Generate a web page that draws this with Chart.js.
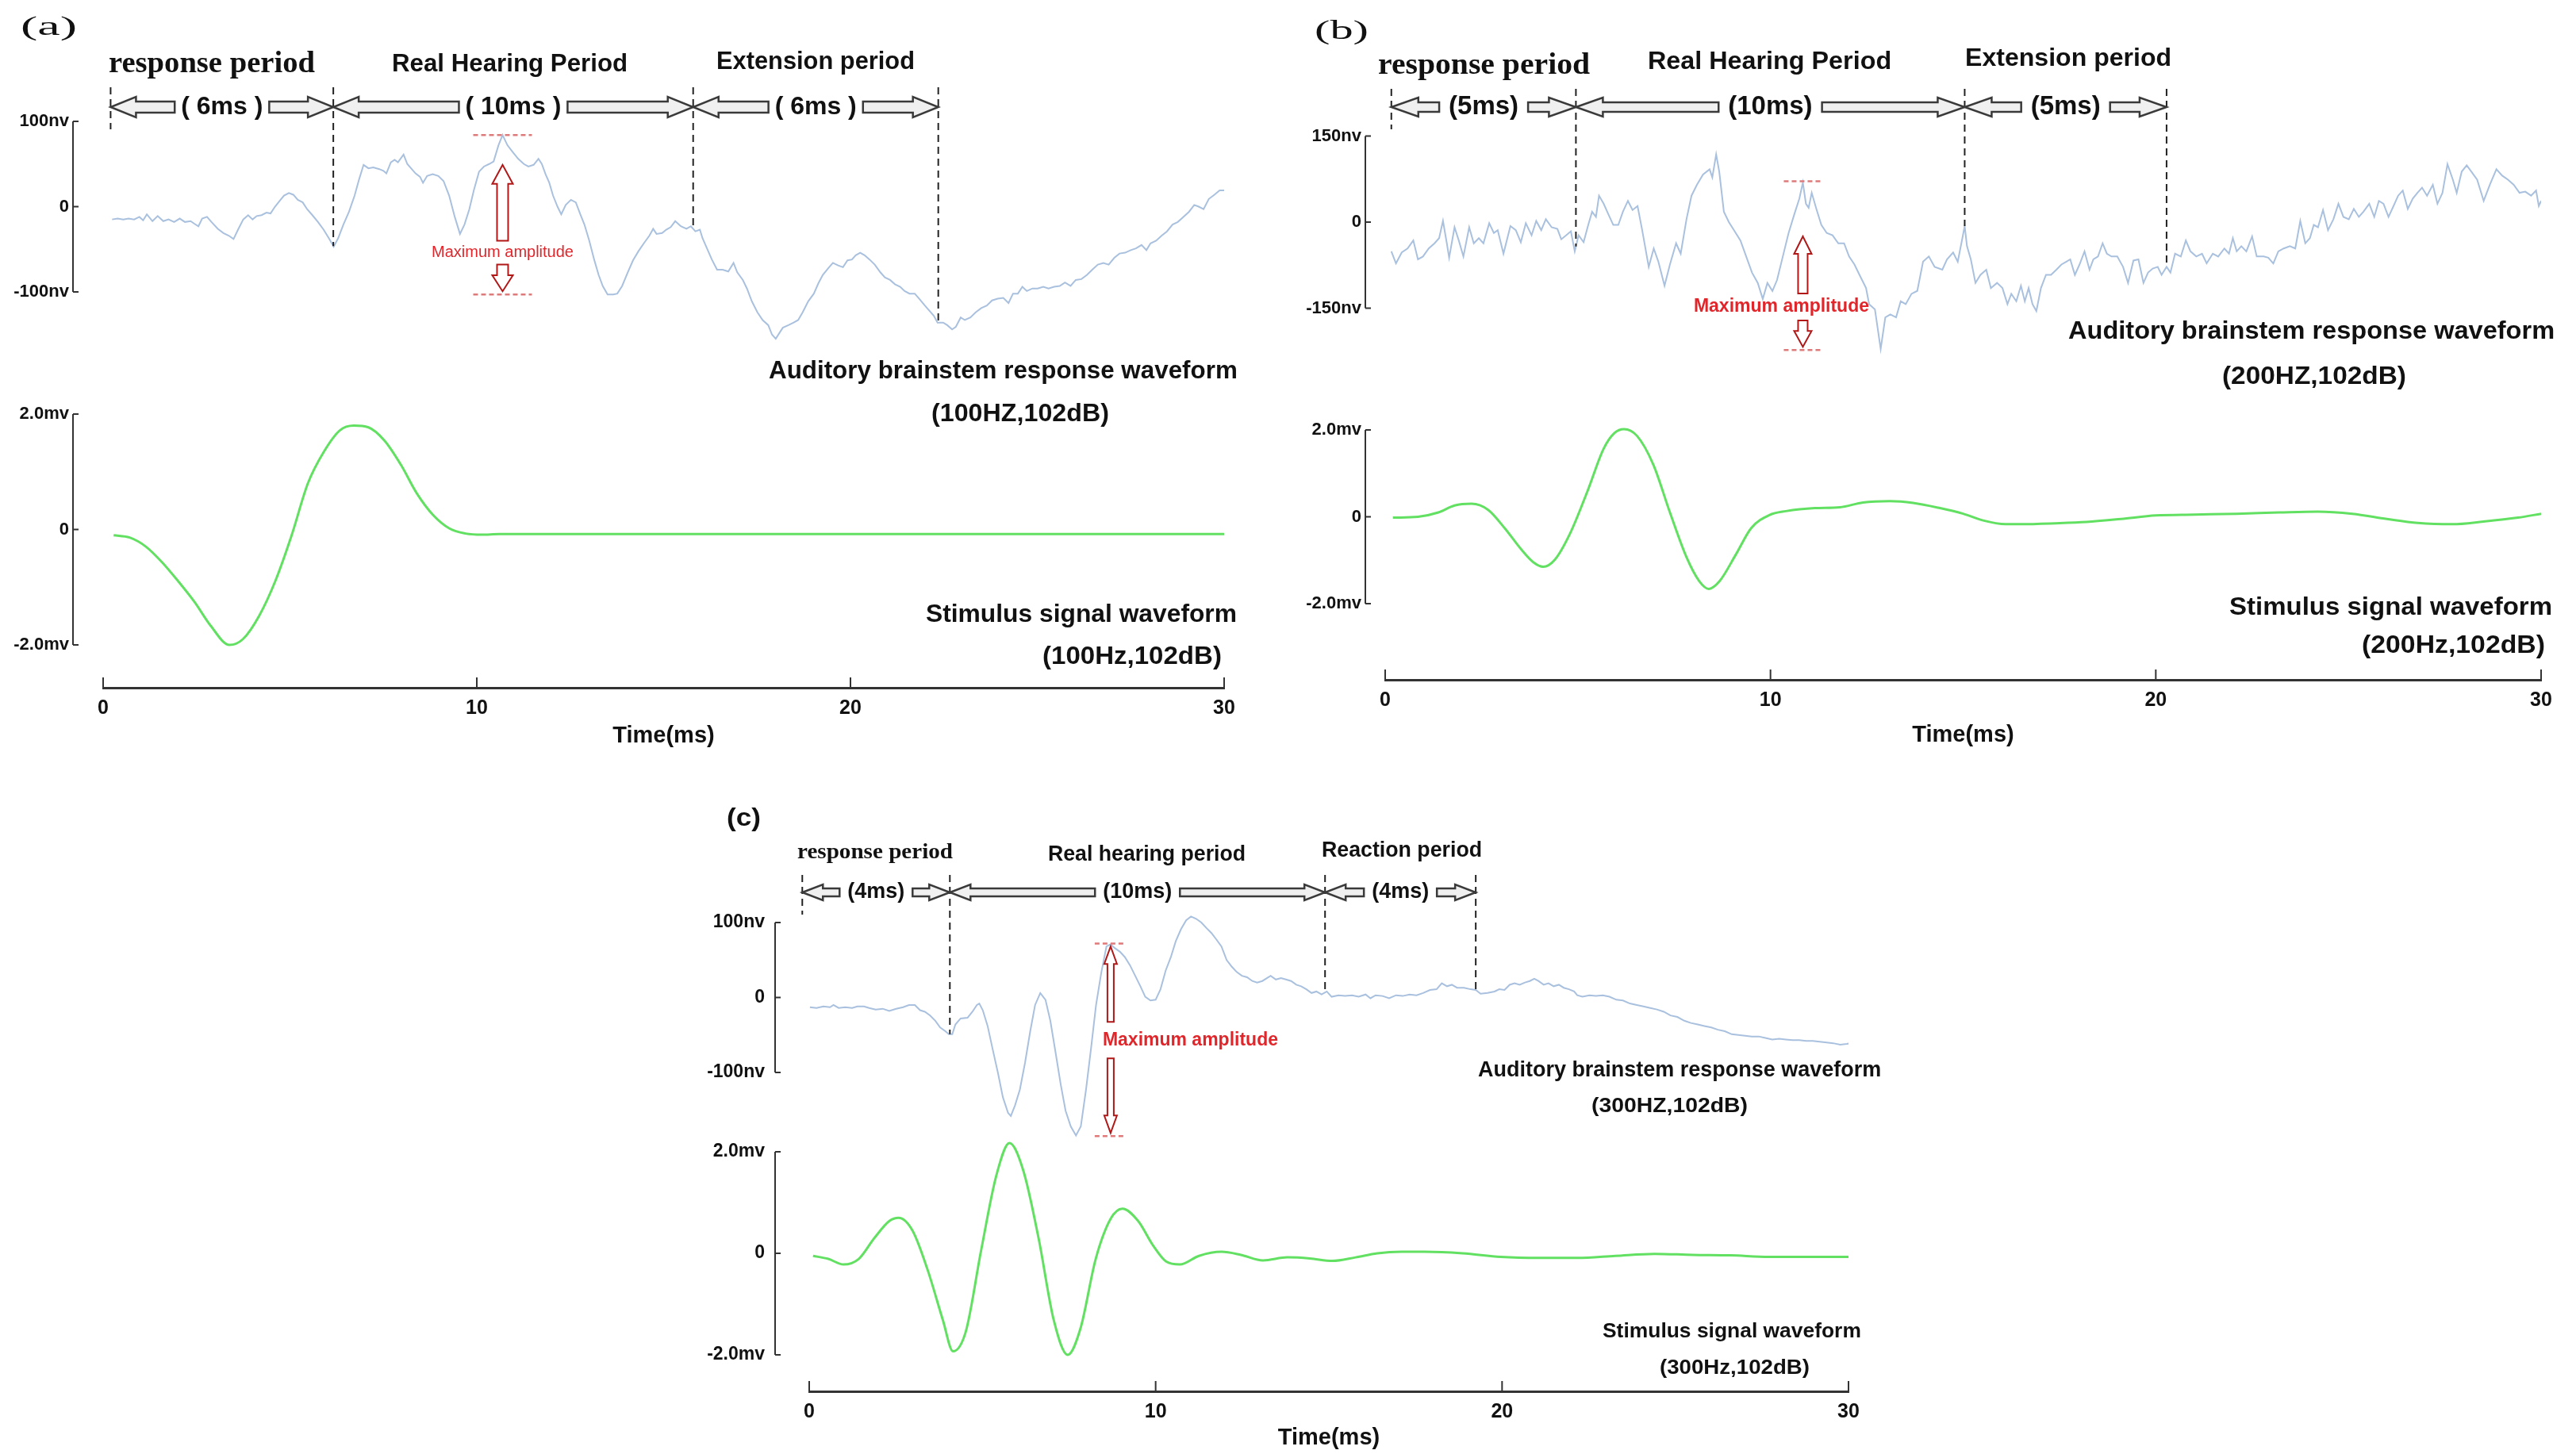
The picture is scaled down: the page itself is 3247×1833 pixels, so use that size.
<!DOCTYPE html>
<html lang="en">
<head>
<meta charset="UTF-8">
<title>ABR and stimulus waveforms</title>
<script src="https://cdn.jsdelivr.net/npm/chart.js"></script>
<style>
  body { margin: 0; background: #fff; width: 3247px; height: 1833px; position: relative; overflow: hidden; }
  canvas { position: absolute; }
  .lbl { position: absolute; white-space: nowrap; color: #111; font-family: 'Liberation Sans', Arial, sans-serif; font-weight: bold; transform-origin: 0 50%; }
  .serif { font-family: 'Liberation Serif', 'DejaVu Serif', serif; }
  .plain { font-weight: normal; }
</style>
</head>
<body>
<script>
// ---- data ----
const timeTicks = [0, 10, 20, 30];
const stimTicks = [-2, 0, 2];
const abrTicksA = [-100, 0, 100];
const abrTicksB = [-150, 0, 150];
const abrTicksC = [-100, 0, 100];

// (a) 100 Hz
const abrTimeA = [0.24,0.39,0.54,0.68,0.83,0.97,1.07,1.17,1.32,1.46,
  1.61,1.75,1.9,2.05,2.19,2.34,2.44,2.55,2.65,2.78,
  2.9,3.07,3.22,3.36,3.49,3.61,3.75,3.88,4.0,4.11,
  4.24,4.37,4.48,4.6,4.73,4.84,4.97,5.09,5.21,5.34,
  5.46,5.6,5.75,5.9,6.04,6.17,6.29,6.43,6.58,6.73,
  6.85,6.97,7.1,7.23,7.39,7.5,7.58,7.7,7.8,7.89,
  8.04,8.14,8.24,8.36,8.48,8.56,8.67,8.82,8.97,9.11,
  9.26,9.41,9.55,9.67,9.8,9.92,10.06,10.19,10.33,10.45,
  10.58,10.69,10.82,10.96,11.11,11.26,11.38,11.52,11.65,11.74,
  11.84,11.94,12.04,12.16,12.26,12.38,12.52,12.65,12.77,12.88,
  13.01,13.14,13.26,13.37,13.5,13.65,13.76,13.89,14.04,14.18,
  14.33,14.47,14.62,14.72,14.81,14.96,15.07,15.19,15.31,15.46,
  15.61,15.73,15.85,15.97,16.04,16.16,16.29,16.43,16.58,16.73,
  16.87,16.97,17.12,17.23,17.36,17.51,17.65,17.8,17.9,18.0,
  18.1,18.19,18.34,18.48,18.6,18.72,18.87,19.02,19.14,19.26,
  19.41,19.53,19.67,19.8,19.92,20.04,20.14,20.26,20.38,20.51,
  20.65,20.8,20.92,21.06,21.19,21.33,21.45,21.58,21.72,21.84,
  21.99,22.11,22.23,22.33,22.48,22.59,22.72,22.82,22.95,23.06,
  23.21,23.35,23.5,23.65,23.79,23.94,24.09,24.23,24.35,24.48,
  24.6,24.72,24.87,25.01,25.16,25.3,25.45,25.6,25.74,25.89,
  26.03,26.18,26.33,26.47,26.62,26.77,26.91,27.06,27.2,27.35,
  27.5,27.64,27.79,27.92,28.03,28.18,28.33,28.47,28.62,28.76,
  28.91,29.06,29.2,29.32,29.45,29.59,29.74,29.88,30.0];
const abrValA = [-15,-14,-15,-14,-15,-12,-16,-9,-17,-11,
  -17,-15,-18,-14,-18,-17,-20,-23,-14,-12,
  -18,-26,-31,-34,-38,-27,-15,-10,-15,-11,
  -10,-7,-8,0,7,13,16,14,8,5,
  -3,-10,-18,-27,-37,-47,-37,-21,-6,13,
  32,49,45,46,44,42,39,52,55,52,
  61,50,45,39,35,28,36,38,36,30,
  13,-12,-32,-21,-3,19,41,47,50,53,
  72,84,72,64,56,50,47,49,56,50,
  38,28,13,0,-9,2,8,5,-9,-21,
  -40,-62,-80,-93,-103,-103,-102,-93,-77,-63,
  -52,-43,-34,-26,-32,-31,-27,-24,-17,-23,
  -26,-23,-29,-27,-37,-49,-62,-74,-74,-76,
  -66,-77,-86,-96,-111,-124,-133,-139,-150,-155,
  -148,-142,-139,-136,-133,-124,-111,-102,-90,-80,
  -72,-66,-69,-71,-63,-62,-57,-54,-57,-62,
  -68,-77,-83,-86,-91,-94,-99,-102,-102,-108,
  -116,-122,-128,-136,-136,-139,-144,-141,-130,-133,
  -130,-124,-119,-116,-110,-108,-107,-113,-102,-102,
  -94,-99,-96,-96,-94,-96,-94,-93,-89,-93,
  -86,-85,-80,-74,-68,-66,-68,-60,-55,-54,
  -51,-49,-45,-51,-43,-40,-34,-29,-21,-18,
  -12,-6,2,0,-3,9,14,19,19];
const stimTimeA = [0.28,0.71,1.15,1.58,2.0,2.45,2.88,3.38,3.74,4.18,
  4.61,5.04,5.48,5.91,6.34,6.71,7.1,7.53,7.97,8.4,
  8.83,9.26,9.7,10.13,10.6,12,15,18,21,24,27,30];
const stimValA = [-0.10,-0.14,-0.30,-0.57,-0.89,-1.26,-1.67,-2.0,-1.90,-1.49,
  -0.89,-0.11,0.80,1.35,1.72,1.80,1.77,1.54,1.12,0.62,
  0.25,0.02,-0.07,-0.09,-0.08,-0.08,-0.08,-0.08,-0.08,-0.08,-0.08,-0.08];
const boundsA = [0.2, 6.16, 15.79, 22.35];
const spansA = ['( 6ms )', '( 10ms )', '( 6ms )'];
const maxAmpA = [10.69, 84, -103];   // time, top, bottom

// (b) 200 Hz
const abrTimeB = [0.16,0.28,0.43,0.58,0.73,0.85,0.98,1.13,1.28,1.4,
  1.5,1.6,1.66,1.8,1.91,2.03,2.18,2.3,2.43,2.55,
  2.7,2.82,2.92,3.07,3.25,3.39,3.52,3.65,3.8,3.92,
  4.05,4.17,4.32,4.47,4.57,4.7,4.82,4.92,5.02,5.15,
  5.27,5.37,5.47,5.55,5.67,5.79,5.92,6.05,6.17,6.3,
  6.42,6.55,6.67,6.84,6.97,7.09,7.25,7.39,7.55,7.67,
  7.82,7.95,8.09,8.25,8.42,8.49,8.59,8.67,8.79,8.92,
  9.05,9.22,9.37,9.52,9.67,9.8,9.92,10.05,10.17,10.32,
  10.47,10.62,10.75,10.84,10.92,10.99,11.07,11.19,11.32,11.46,
  11.61,11.76,11.91,12.04,12.18,12.31,12.48,12.56,12.71,12.86,
  12.98,13.11,13.26,13.38,13.51,13.66,13.81,13.96,14.11,14.26,
  14.46,14.58,14.74,14.86,14.98,15.04,15.1,15.2,15.32,15.45,
  15.6,15.72,15.88,16.02,16.15,16.25,16.38,16.5,16.6,16.7,
  16.8,16.9,17.02,17.15,17.28,17.42,17.55,17.68,17.78,17.9,
  18.02,18.15,18.28,18.38,18.5,18.62,18.73,18.85,19.0,19.15,
  19.28,19.42,19.55,19.68,19.8,19.92,20.05,20.15,20.28,20.38,
  20.5,20.65,20.78,20.9,21.05,21.2,21.32,21.48,21.62,21.78,
  21.9,22.0,22.1,22.22,22.35,22.5,22.62,22.8,22.92,23.05,
  23.18,23.32,23.48,23.62,23.75,23.88,24.0,24.1,24.21,24.34,
  24.47,24.61,24.74,24.87,25.01,25.14,25.27,25.39,25.54,25.67,
  25.79,25.91,26.04,26.17,26.29,26.41,26.54,26.67,26.79,26.91,
  27.04,27.19,27.31,27.44,27.57,27.71,27.81,27.94,28.07,28.19,
  28.34,28.51,28.67,28.84,28.99,29.14,29.29,29.44,29.59,29.74,
  29.87,29.94,30.0];
const abrValB = [-51,-72,-53,-46,-32,-65,-60,-46,-37,-28,
  2,-37,-62,-9,-32,-60,-9,-37,-28,-37,
  -2,-19,-14,-55,-7,-14,-35,-2,-23,2,
  -14,5,-9,-12,-30,-23,-16,-51,-23,-35,
  -5,18,9,46,32,14,-5,-5,18,37,
  21,28,-14,-78,-46,-69,-111,-74,-37,-55,
  5,46,65,83,92,78,118,88,18,0,
  -14,-32,-60,-88,-106,-134,-106,-120,-101,-60,
  -19,14,41,69,32,25,51,23,-5,-19,
  -23,-37,-37,-60,-74,-92,-115,-143,-152,-221,
  -166,-161,-166,-138,-143,-125,-120,-69,-60,-78,
  -83,-65,-53,-69,-28,-7,-42,-65,-106,-92,
  -83,-115,-106,-115,-143,-125,-138,-111,-138,-115,
  -143,-155,-115,-92,-92,-83,-74,-69,-65,-92,
  -74,-51,-83,-65,-60,-37,-55,-60,-60,-78,
  -106,-67,-65,-106,-88,-81,-78,-92,-78,-88,
  -55,-60,-32,-51,-60,-55,-72,-55,-60,-46,
  -55,-28,-51,-42,-51,-25,-60,-60,-62,-72,
  -51,-46,-42,-46,2,-37,-28,-5,-9,21,
  -14,5,32,9,5,23,9,18,32,9,
  37,32,9,28,46,55,23,41,51,60,
  46,65,32,51,101,74,51,88,99,88,
  74,37,65,92,81,74,65,51,53,46,
  55,28,37];
const stimTimeB = [0.2,0.85,1.38,1.8,2.24,2.67,3.1,3.53,3.85,4.1,
  4.4,4.8,5.25,5.67,5.95,6.2,6.53,6.96,7.39,7.82,
  8.15,8.4,8.68,9.1,9.5,9.97,10.4,11.15,11.8,12.4,
  13.1,13.7,14.4,15.0,15.5,16.1,16.5,17.4,18.2,19.1,
  20.0,21.0,22.1,23.2,24.2,25.1,26.0,26.8,27.7,28.5,
  29.4,30.0];
const stimValB = [-0.02,0,0.1,0.26,0.3,0.16,-0.26,-0.75,-1.05,-1.15,
  -0.99,-0.38,0.59,1.57,1.93,2.02,1.87,1.2,0.1,-0.93,
  -1.48,-1.66,-1.48,-0.87,-0.26,0.04,0.13,0.2,0.22,0.33,
  0.36,0.32,0.2,0.07,-0.08,-0.17,-0.17,-0.15,-0.12,-0.05,
  0.03,0.05,0.07,0.1,0.12,0.07,-0.05,-0.14,-0.17,-0.11,
  -0.02,0.07];
const boundsB = [0.16, 4.95, 15.04, 20.28];
const spansB = ['(5ms)', '(10ms)', '(5ms)'];
const maxAmpB = [10.84, 71, -223];

// (c) 300 Hz
const abrTimeC = [0.02,0.21,0.41,0.6,0.7,0.85,1.04,1.24,1.39,1.58,
  1.73,1.92,2.12,2.31,2.51,2.71,2.88,3.05,3.2,3.34,
  3.49,3.64,3.78,3.93,4.03,4.13,4.22,4.37,4.57,4.71,
  4.84,4.91,5.01,5.15,5.3,5.45,5.59,5.74,5.82,5.94,
  6.08,6.23,6.38,6.52,6.67,6.82,6.96,7.11,7.26,7.4,
  7.55,7.7,7.84,7.99,8.14,8.28,8.43,8.58,8.7,8.82,
  8.97,9.11,9.26,9.41,9.56,9.7,9.85,10.0,10.14,10.29,
  10.44,10.58,10.73,10.88,11.02,11.17,11.32,11.46,11.61,11.76,
  11.9,12.05,12.2,12.34,12.49,12.64,12.79,12.93,13.08,13.22,
  13.32,13.47,13.62,13.76,13.91,14.06,14.2,14.35,14.5,14.64,
  14.79,14.94,15.08,15.28,15.47,15.67,15.86,16.06,16.2,16.35,
  16.55,16.74,16.94,17.13,17.33,17.53,17.72,17.92,18.11,18.26,
  18.41,18.55,18.7,18.9,19.09,19.24,19.38,19.58,19.78,19.92,
  20.07,20.22,20.36,20.51,20.66,20.8,20.93,21.05,21.2,21.34,
  21.49,21.64,21.78,21.93,22.08,22.17,22.32,22.52,22.71,22.91,
  23.1,23.3,23.49,23.69,23.89,24.08,24.28,24.47,24.67,24.86,
  25.06,25.26,25.45,25.65,25.84,26.04,26.23,26.43,26.63,26.82,
  27.02,27.21,27.41,27.6,27.8,28.0,28.19,28.39,28.58,28.78,
  28.97,29.17,29.37,29.56,29.76,29.95,30.15];
const abrValC = [-13,-14,-12,-13,-10,-14,-13,-14,-12,-12,
  -14,-16,-15,-18,-15,-13,-10,-10,-17,-19,
  -24,-31,-40,-45,-49,-49,-36,-28,-27,-19,
  -10,-8,-17,-38,-70,-101,-133,-154,-158,-144,
  -123,-87,-45,-10,6,-3,-31,-73,-116,-151,
  -172,-184,-172,-123,-66,-10,33,68,71,66,
  61,54,43,29,15,1,-4,-3,11,36,
  54,75,91,103,108,105,100,93,86,77,
  68,50,41,34,29,27,22,20,22,26,
  29,24,26,24,22,17,15,11,6,8,
  4,8,1,3,2,3,1,4,-1,3,
  2,-1,3,2,4,3,6,10,11,19,
  15,17,13,13,11,10,5,6,8,11,
  10,17,19,17,20,22,25,22,17,19,
  15,17,13,11,8,3,1,3,2,3,
  1,-3,-4,-8,-10,-12,-14,-16,-19,-24,
  -26,-31,-34,-36,-38,-40,-43,-45,-49,-50,
  -51,-52,-52,-54,-56,-55,-56,-57,-57,-58,
  -58,-59,-60,-61,-63,-62,-60];
const stimTimeC = [0.11,0.55,0.99,1.43,1.88,2.32,2.58,2.98,3.42,3.86,
  4.15,4.52,4.96,5.4,5.78,6.18,6.62,7.06,7.46,7.83,
  8.27,8.71,9.04,9.49,9.93,10.3,10.7,11.25,11.9,12.46,
  13.1,13.8,14.45,15.1,15.77,16.4,17.1,17.76,18.86,19.96,
  21.07,22.17,23.27,24.4,25.5,26.6,27.7,28.8,30.0];
const stimValC = [-0.05,-0.11,-0.22,-0.11,0.30,0.64,0.70,0.45,-0.33,-1.32,
  -1.93,-1.54,0.05,1.53,2.17,1.63,0.30,-1.32,-2.0,-1.48,
  -0.11,0.69,0.88,0.64,0.15,-0.16,-0.22,-0.05,0.03,-0.03,
  -0.14,-0.08,-0.10,-0.15,-0.08,0,0.03,0.03,0,-0.07,
  -0.09,-0.09,-0.05,-0.01,-0.03,-0.04,-0.07,-0.07,-0.07];
const boundsC = [-0.2, 4.06, 14.89, 19.24];
const spansC = ['(4ms)', '(10ms)', '(4ms)'];
const maxAmpC = [8.7, 72, -185];

// ---- helpers ----
const SANS = "'Liberation Sans', Arial, sans-serif";
Chart.defaults.font.family = SANS;
Chart.defaults.color = '#111';

function pts(ts, vs) { return ts.map((t, i) => ({ x: t, y: vs[i] })); }

function addCanvas(left, top, w, h) {
  const c = document.createElement('canvas');
  c.width = w; c.height = h;
  c.style.left = left + 'px'; c.style.top = top + 'px';
  c.style.width = w + 'px'; c.style.height = h + 'px';
  document.body.appendChild(c);
  return c;
}

function curveAt(data, t) {
  for (let i = 1; i < data.length; i++) {
    if (data[i].x >= t) {
      const f = (t - data[i - 1].x) / (data[i].x - data[i - 1].x);
      return data[i - 1].y + f * (data[i].y - data[i - 1].y);
    }
  }
  return data[data.length - 1].y;
}

function blockArrow(ctx, x0, y0, x1, y1, a) {
  const L = Math.hypot(x1 - x0, y1 - y0);
  if (L < 3) return;
  const h = Math.min(a.head, L * 0.6);
  ctx.save();
  ctx.translate(x0, y0);
  ctx.rotate(Math.atan2(y1 - y0, x1 - x0));
  ctx.beginPath();
  ctx.moveTo(0, -a.shaft); ctx.lineTo(L - h, -a.shaft); ctx.lineTo(L - h, -a.headH);
  ctx.lineTo(L, 0);
  ctx.lineTo(L - h, a.headH); ctx.lineTo(L - h, a.shaft); ctx.lineTo(0, a.shaft);
  ctx.closePath();
  ctx.fillStyle = a.fill; ctx.fill();
  ctx.lineWidth = a.lw || 2.5; ctx.strokeStyle = a.stroke; ctx.stroke();
  ctx.restore();
}

// y axis line with small ticks, set to the left of the plot
const yAxisLine = {
  id: 'yAxisLine',
  afterDraw(chart, args, o) {
    const y = chart.scales.y, ctx = chart.ctx;
    const x = chart.chartArea.left + o.dx;
    const ps = y.ticks.map(t => y.getPixelForValue(t.value));
    ctx.save();
    ctx.strokeStyle = '#333'; ctx.lineWidth = 2;
    ctx.beginPath();
    ctx.moveTo(x, Math.min(...ps)); ctx.lineTo(x, Math.max(...ps));
    ps.forEach(p => { ctx.moveTo(x, p); ctx.lineTo(x + 7, p); });
    ctx.stroke();
    ctx.restore();
  }
};

const xTickMarks = {
  id: 'xTickMarks',
  afterDraw(chart) {
    const x = chart.scales.x, ctx = chart.ctx, b = chart.chartArea.bottom;
    ctx.save();
    ctx.strokeStyle = '#333'; ctx.lineWidth = 2;
    ctx.beginPath();
    x.ticks.forEach(t => { const p = x.getPixelForValue(t.value); ctx.moveTo(p, b); ctx.lineTo(p, b - 13); });
    ctx.stroke();
    ctx.restore();
  }
};

// period boundaries, double arrows and durations
const periods = {
  id: 'periods',
  afterDatasetsDraw(chart, args, o) {
    const ctx = chart.ctx, xs = chart.scales.x, ys = chart.scales.y;
    const data = chart.data.datasets[0].data;
    const px = o.bounds.map(t => xs.getPixelForValue(t));
    ctx.save();
    ctx.setLineDash([9, 6]); ctx.strokeStyle = '#222'; ctx.lineWidth = 2;
    px.forEach((p, i) => {
      const end = i === 0 ? o.rowY + 28 : ys.getPixelForValue(curveAt(data, o.bounds[i]));
      ctx.beginPath(); ctx.moveTo(p, o.topY); ctx.lineTo(p, end); ctx.stroke();
    });
    ctx.setLineDash([]);
    ctx.font = o.font; ctx.textAlign = 'center'; ctx.textBaseline = 'middle'; ctx.fillStyle = '#111';
    const arr = { head: o.head, headH: o.headH, shaft: o.shaft, fill: '#f0f0f0', stroke: '#3a3a3a' };
    o.labels.forEach((s, i) => {
      const a = px[i], b = px[i + 1], mid = (a + b) / 2;
      const w = ctx.measureText(s).width;
      ctx.fillText(s, mid, o.rowY);
      blockArrow(ctx, mid - w / 2 - o.gap, o.rowY, a, o.rowY, arr);
      blockArrow(ctx, mid + w / 2 + o.gap, o.rowY, b, o.rowY, arr);
    });
    ctx.restore();
  }
};

// red "Maximum amplitude" marker
const maxAmp = {
  id: 'maxAmp',
  afterDatasetsDraw(chart, args, o) {
    const ctx = chart.ctx, xs = chart.scales.x, ys = chart.scales.y;
    const x = xs.getPixelForValue(o.mark[0]);
    const yt = ys.getPixelForValue(o.mark[1]), yb = ys.getPixelForValue(o.mark[2]);
    const yl = ys.getPixelForValue(o.label), ytip = ys.getPixelForValue(o.tip);
    ctx.save();
    ctx.setLineDash([6, 4]); ctx.strokeStyle = '#e07a7a'; ctx.lineWidth = 2.5;
    [yt, yb].forEach(y => { ctx.beginPath(); ctx.moveTo(x - o.dash, y); ctx.lineTo(x + o.dash, y); ctx.stroke(); });
    ctx.setLineDash([]);
    const arr = { head: o.head, headH: o.headH, shaft: o.shaft, fill: '#fff', stroke: '#b01818', lw: 2 };
    blockArrow(ctx, x, yl - o.gap, x, ytip, arr);
    blockArrow(ctx, x, yl + o.gap, x, yb - 4, arr);
    ctx.font = o.font; ctx.fillStyle = '#e0262b'; ctx.textBaseline = 'middle';
    ctx.textAlign = o.align;
    ctx.fillText('Maximum amplitude', o.align === 'left' ? x - 10 : x + (o.dx || 0), yl);
    ctx.restore();
  }
};

function yScale(p, ticks, fmt) {
  return {
    min: p.min, max: p.max,
    afterFit: s => { s.width = p.yw; },
    afterBuildTicks: s => { s.ticks = ticks.map(v => ({ value: v })); },
    grid: { display: false, drawTicks: false },
    border: { display: false },
    ticks: { padding: p.tickPad, font: { size: p.tickSize, weight: 'bold' }, color: '#111', callback: fmt }
  };
}

function abrChart(p, ts, vs, ticks, bounds, spans, mark) {
  const c = addCanvas(p.left, p.top, p.w, p.h);
  return new Chart(c, {
    type: 'line',
    data: { datasets: [{ data: pts(ts, vs), borderColor: '#a9c1de', borderWidth: 2, pointRadius: 0, tension: 0 }] },
    options: {
      responsive: false, animation: false, devicePixelRatio: 1,
      layout: { padding: { left: 0, right: p.padR, top: p.padT, bottom: p.h - p.bottom } },
      plugins: {
        legend: { display: false }, tooltip: { enabled: false },
        yAxisLine: { dx: p.axisDx },
        periods: Object.assign({ bounds: bounds, labels: spans }, p.row),
        maxAmp: Object.assign({ mark: mark }, p.amp)
      },
      scales: {
        x: { type: 'linear', min: 0, max: 30, display: false },
        y: yScale(p, ticks, v => (v === 0 ? '0' : v + 'nv'))
      }
    },
    plugins: [yAxisLine, periods, maxAmp]
  });
}

function stimChart(p, ts, vs) {
  const c = addCanvas(p.left, p.top, p.w, p.h);
  return new Chart(c, {
    type: 'line',
    data: { datasets: [{ data: pts(ts, vs), borderColor: '#62e062', borderWidth: 3, pointRadius: 0, cubicInterpolationMode: 'monotone' }] },
    options: {
      responsive: false, animation: false, devicePixelRatio: 1,
      layout: { padding: { left: 0, right: p.padR, top: p.padT, bottom: 0 } },
      plugins: { legend: { display: false }, tooltip: { enabled: false }, yAxisLine: { dx: p.axisDx } },
      scales: {
        x: {
          type: 'linear', min: 0, max: 30, position: 'bottom',
          afterFit: s => { s.height = p.xh; },
          afterBuildTicks: s => { s.ticks = timeTicks.map(v => ({ value: v })); },
          grid: { display: false, drawTicks: false },
          border: { display: true, color: '#333', width: 3 },
          ticks: { padding: 11, maxRotation: 0, font: { size: 25, weight: 'bold' }, color: '#111' },
          title: { display: true, text: 'Time(ms)', color: '#111', font: { size: 29, weight: 'bold' }, padding: { top: 0, bottom: p.titlePad } }
        },
        y: yScale(p, stimTicks, v => (v === 0 ? '0' : v.toFixed(1) + 'mv'))
      }
    },
    plugins: [yAxisLine, xTickMarks]
  });
}

function putText(str, x, cy, w, size, cls) {
  const d = document.createElement('div');
  d.className = 'lbl' + (cls ? ' ' + cls : '');
  d.textContent = str;
  d.style.left = x + 'px';
  d.style.top = (cy - size / 2) + 'px';
  d.style.fontSize = size + 'px';
  d.style.lineHeight = size + 'px';
  document.body.appendChild(d);
  const nat = d.getBoundingClientRect().width;
  d.style.transform = 'scaleX(' + (w / nat).toFixed(3) + ')';
}

// ---- panel (a) ----
abrChart({ left: 0, top: 0, w: 1600, h: 505, yw: 130, padR: 57, padT: 142.25, bottom: 443.25,
  min: -170, max: 110, tickPad: 43, tickSize: 22, axisDx: -38,
  row: { rowY: 135, topY: 110, font: 'bold 32px ' + SANS, head: 32, headH: 13, shaft: 7, gap: 8 },
  amp: { label: -54, tip: 49, dash: 37, gap: 15, font: '20px ' + SANS, align: 'center', head: 24, headH: 13, shaft: 7 }
}, abrTimeA, abrValA, abrTicksA, boundsA, spansA, maxAmpA);
stimChart({ left: 0, top: 400, w: 1600, h: 567, yw: 130, padR: 57, padT: 78.35,
  min: -2.742, max: 2.6, tickPad: 43, tickSize: 22, axisDx: -38, xh: 100, titlePad: 22 }, stimTimeA, stimValA);

// ---- panel (b) ----
abrChart({ left: 1630, top: 0, w: 1617, h: 510, yw: 116, padR: 44, padT: 135.3, bottom: 460.8,
  min: -250, max: 200, tickPad: 30, tickSize: 22, axisDx: -25,
  row: { rowY: 135, topY: 112, font: 'bold 33px ' + SANS, head: 34, headH: 12, shaft: 6, gap: 12 },
  amp: { label: -148, tip: -25, dash: 24, gap: 17, dx: -27, font: 'bold 23px ' + SANS, align: 'center', head: 22, headH: 11, shaft: 6 }
}, abrTimeB, abrValB, abrTicksB, boundsB, spansB, maxAmpB);
stimChart({ left: 1630, top: 470, w: 1617, h: 487, yw: 116, padR: 44, padT: 50.1,
  min: -3.7534, max: 2.4, tickPad: 30, tickSize: 22, axisDx: -25, xh: 100, titlePad: 13 }, stimTimeB, stimValB);

// ---- panel (c) ----
abrChart({ left: 880, top: 990, w: 1500, h: 535, yw: 140, padR: 50, padT: 125.75, bottom: 456.5,
  min: -200, max: 150, tickPad: 56, tickSize: 23, axisDx: -43,
  row: { rowY: 135, topY: 113, font: 'bold 27px ' + SANS, head: 26, headH: 10, shaft: 5, gap: 10 },
  amp: { label: -57, tip: 68, dash: 20, gap: 23, font: 'bold 23px ' + SANS, align: 'left', head: 22, headH: 8, shaft: 4 }
}, abrTimeC, abrValC, abrTicksC, boundsC, spansC, maxAmpC);
stimChart({ left: 880, top: 1340, w: 1500, h: 493, yw: 140, padR: 50, padT: 80,
  min: -2.71875, max: 2.5, tickPad: 56, tickSize: 23, axisDx: -43, xh: 79, titlePad: 3 }, stimTimeC, stimValC);

// ---- free text ----
putText('(a)', 26, 33, 71, 34, 'serif plain');
putText('response period', 137, 78, 260, 38, 'serif');
putText('Real Hearing Period', 494, 79, 297, 32);
putText('Extension period', 903, 76, 250, 32);
putText('Auditory brainstem response waveform', 969, 466, 591, 32);
putText('(100HZ,102dB)', 1174, 520, 224, 31);
putText('Stimulus signal waveform', 1167, 773, 392, 31);
putText('(100Hz,102dB)', 1314, 826, 226, 31);

putText('(b)', 1657, 38, 68, 34, 'serif plain');
putText('response period', 1737, 80, 267, 38, 'serif');
putText('Real Hearing Period', 2077, 76, 307, 32);
putText('Extension period', 2477, 72, 260, 32);
putText('Auditory brainstem response waveform', 2607, 416, 613, 32);
putText('(200HZ,102dB)', 2801, 473, 232, 31);
putText('Stimulus signal waveform', 2810, 764, 407, 32);
putText('(200Hz,102dB)', 2977, 812, 231, 31);

putText('(c)', 916, 1030, 43, 32);
putText('response period', 1005, 1073, 196, 28, 'serif');
putText('Real hearing period', 1321, 1076, 249, 28);
putText('Reaction period', 1666, 1071, 202, 28);
putText('Auditory brainstem response waveform', 1863, 1348, 508, 27);
putText('(300HZ,102dB)', 2006, 1393, 197, 26);
putText('Stimulus signal waveform', 2020, 1677, 326, 26);
putText('(300Hz,102dB)', 2092, 1723, 189, 26);
</script>
</body>
</html>
